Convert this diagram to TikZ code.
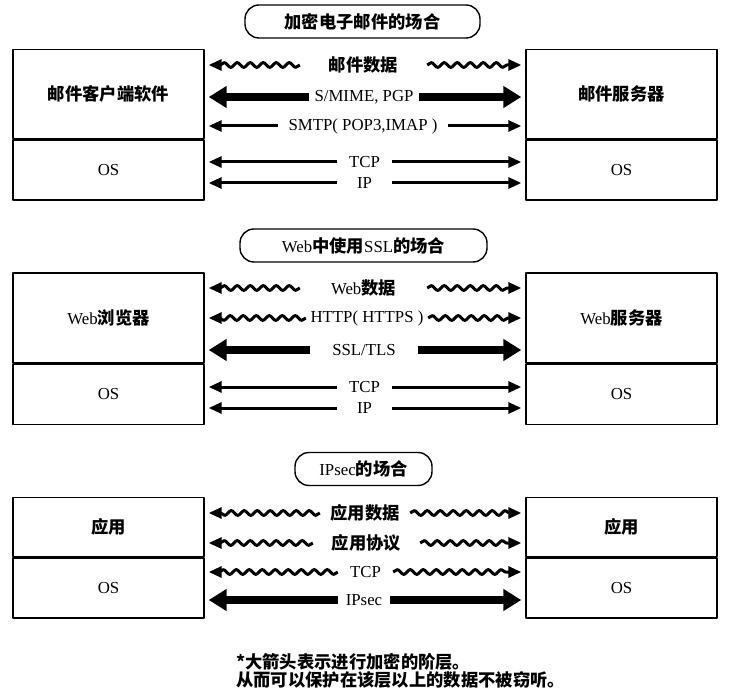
\documentclass[tikz,border=0pt]{standalone}
\usepackage{fontspec}
\setmainfont{Liberation Serif}
\newfontfamily\cjk{Noto Sans CJK SC}
\usetikzlibrary{arrows.meta,decorations.pathmorphing}
\newcommand\zh[1]{{\cjk\bfseries\fontsize{17.3}{18}\selectfont #1}}

\begin{document}
\begin{tikzpicture}[x=1pt, y=-1pt, line join=round,
        font=\fontsize{16.8}{18}\selectfont,
        layer/.style={draw, line width=1.4pt, minimum width=191pt, inner sep=0pt},
        title/.style={draw, line width=1.4pt, rounded corners=14pt, minimum height=33pt, inner sep=0pt},
        gap/.style={inner sep=0pt, minimum height=16pt},
        thinarrow/.style={line width=3pt, -{Triangle[length=13pt,width=11pt]}, shorten >=4pt},
        thickarrow/.style={line width=8pt, -{Triangle[length=18pt,width=21pt]}, shorten >=4pt},
        wavy/.style={thinarrow, decorate, decoration={snake, amplitude=2.4pt, segment length=13pt, post length=14pt}}]
        \useasboundingbox (0,0) rectangle (735,692);

        % encrypted mail
        \node[title, minimum width=235pt] (t1) at (362.5,21.5) {\zh{加密电子邮件的场合}};
        \node[layer, minimum height=89pt] (mailC) at (108.5,94) {\zh{邮件客户端软件}};
        \node[layer, minimum height=60pt, anchor=north] (mailCos) at (mailC.south) {OS};
        \node[layer, minimum height=89pt] (mailS) at (621.5,94) {\zh{邮件服务器}};
        \node[layer, minimum height=60pt, anchor=north] (mailSos) at (mailS.south) {OS};

        \node[gap, minimum width=110pt] (m2) at (364,97) {S/MIME, PGP};
        \node[gap, minimum width=127pt] (m1) at (363.5,65) {\zh{邮件数据}};
        \node[gap, minimum width=170pt] (m3) at (363,126) {SMTP( POP3,IMAP )};
        \node[gap, minimum width=55pt] (m4) at (364.5,162) {TCP};
        \node[gap, minimum width=55pt] (m5) at (364.5,183) {IP};

        \draw[wavy] (m1.west) -- (m1.west -| mailC.east); \draw[wavy] (m1.east) -- (m1.east -| mailS.west);
        \draw[thickarrow] (m2.west) -- (m2.west -| mailC.east); \draw[thickarrow] (m2.east) -- (m2.east -| mailS.west);
        \draw[thinarrow] (m3.west) -- (m3.west -| mailC.east); \draw[thinarrow] (m3.east) -- (m3.east -| mailS.west);
        \draw[thinarrow] (m4.west) -- (m4.west -| mailCos.east); \draw[thinarrow] (m4.east) -- (m4.east -| mailSos.west);
        \draw[thinarrow] (m5.west) -- (m5.west -| mailCos.east); \draw[thinarrow] (m5.east) -- (m5.east -| mailSos.west);

        % SSL on the web
        \node[title, minimum width=247pt] (t2) at (363.5,245.5) {Web\zh{中使用}SSL\zh{的场合}};
        \node[layer, minimum height=90pt] (webC) at (108.5,318) {Web\zh{浏览器}};
        \node[layer, minimum height=60pt, anchor=north] (webCos) at (webC.south) {OS};
        \node[layer, minimum height=90pt] (webS) at (621.5,318) {Web\zh{服务器}};
        \node[layer, minimum height=60pt, anchor=north] (webSos) at (webS.south) {OS};

        \node[gap, minimum width=127pt] (w1) at (363.5,288) {Web\zh{数据}};
        \node[gap, minimum width=122pt] (w2) at (367,318) {HTTP( HTTPS )};
        \node[gap, minimum width=108pt] (w3) at (364,350) {SSL/TLS};
        \node[gap, minimum width=55pt] (w4) at (364.5,387) {TCP};
        \node[gap, minimum width=55pt] (w5) at (364.5,408) {IP};

        \draw[wavy] (w1.west) -- (w1.west -| webC.east); \draw[wavy] (w1.east) -- (w1.east -| webS.west);
        \draw[wavy] (w2.west) -- (w2.west -| webC.east); \draw[wavy] (w2.east) -- (w2.east -| webS.west);
        \draw[thickarrow] (w3.west) -- (w3.west -| webC.east); \draw[thickarrow] (w3.east) -- (w3.east -| webS.west);
        \draw[thinarrow] (w4.west) -- (w4.west -| webCos.east); \draw[thinarrow] (w4.east) -- (w4.east -| webSos.west);
        \draw[thinarrow] (w5.west) -- (w5.west -| webCos.east); \draw[thinarrow] (w5.east) -- (w5.east -| webSos.west);

        % IPsec
        \node[title, minimum width=137pt] (t3) at (363.5,469) {IPsec\zh{的场合}};
        \node[layer, minimum height=59pt] (ipC) at (108.5,527) {\zh{应用}};
        \node[layer, minimum height=60pt, anchor=north] (ipCos) at (ipC.south) {OS};
        \node[layer, minimum height=59pt] (ipS) at (621.5,527) {\zh{应用}};
        \node[layer, minimum height=60pt, anchor=north] (ipSos) at (ipS.south) {OS};

        \node[gap, minimum width=90pt] (i1) at (365,513) {\zh{应用数据}};
        \node[gap, minimum width=107pt] (i2) at (366.5,543) {\zh{应用协议}};
        \node[gap, minimum width=55pt] (i3) at (365.5,572) {TCP};
        \node[gap, minimum width=52pt] (i4) at (364,600) {IPsec};

        \draw[wavy] (i1.west) -- (i1.west -| ipC.east); \draw[wavy] (i1.east) -- (i1.east -| ipS.west);
        \draw[wavy] (i2.west) -- (i2.west -| ipC.east); \draw[wavy] (i2.east) -- (i2.east -| ipS.west);
        \draw[wavy] (i3.west) -- (i3.west -| ipCos.east); \draw[wavy] (i3.east) -- (i3.east -| ipSos.west);
        \draw[thickarrow] (i4.west) -- (i4.west -| ipCos.east); \draw[thickarrow] (i4.east) -- (i4.east -| ipSos.west);

        \node[anchor=west, align=left, inner sep=0pt] (note) at (236,671) {\zh{*大箭头表示进行加密的阶层。}\\\zh{从而可以保护在该层以上的数据不被窃听。}};
\end{tikzpicture}
\end{document}
